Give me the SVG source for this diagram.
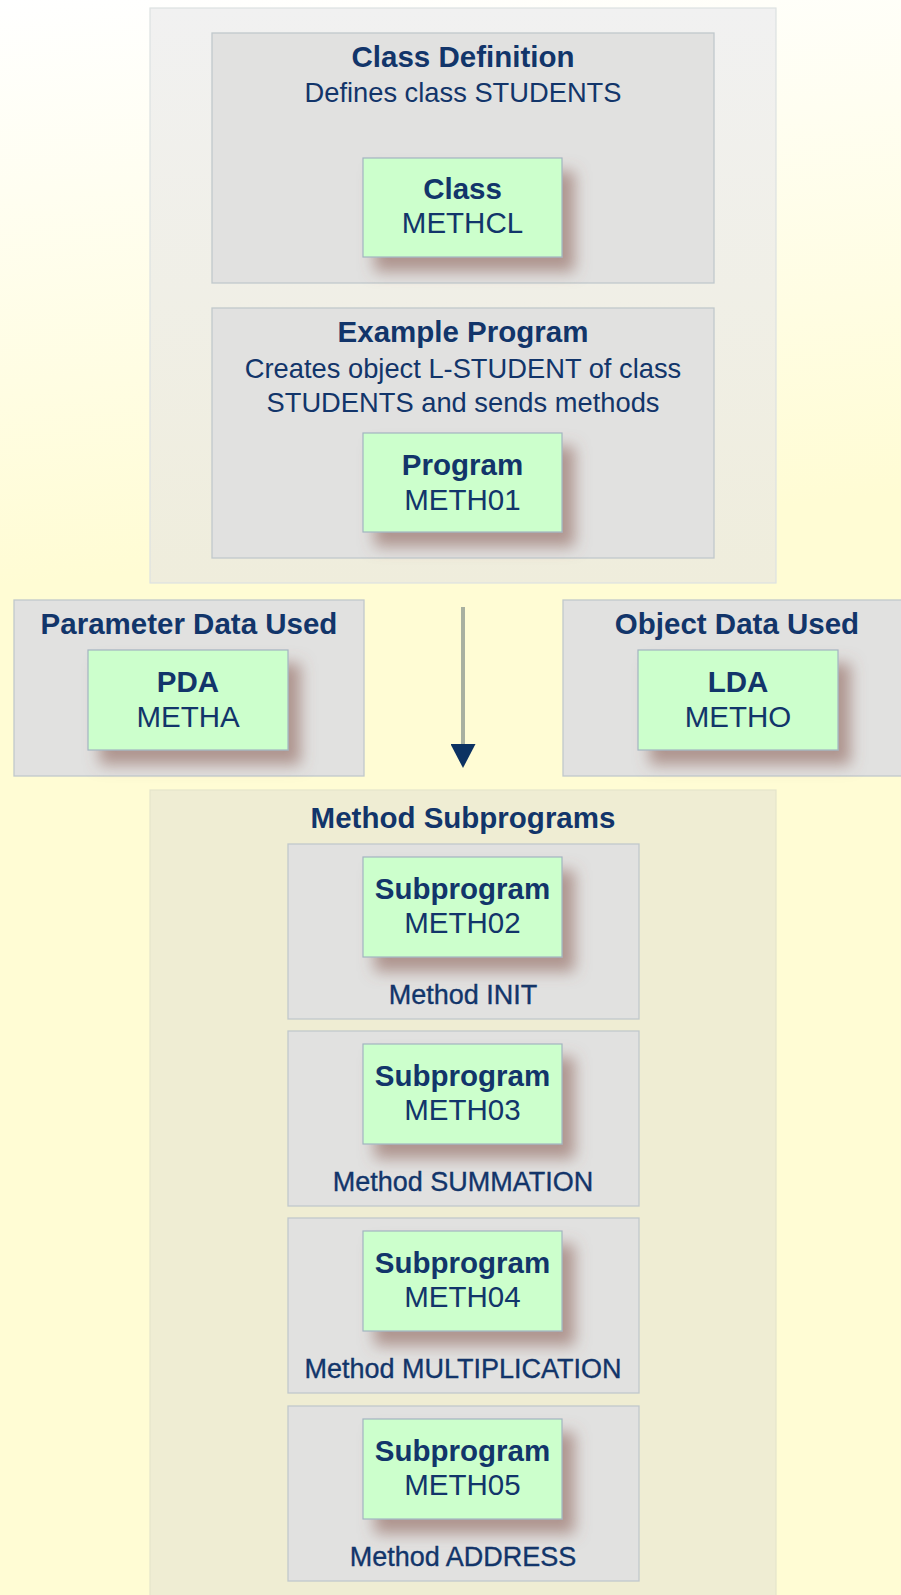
<svg xmlns="http://www.w3.org/2000/svg" width="901" height="1595" viewBox="0 0 901 1595">
<defs>
<linearGradient id="bg" gradientUnits="userSpaceOnUse" x1="0" y1="0" x2="60" y2="580">
<stop offset="0" stop-color="#ffffff"/>
<stop offset="1" stop-color="#fffcd4"/>
</linearGradient>
<linearGradient id="topbox" x1="0" y1="0" x2="0" y2="1">
<stop offset="0" stop-color="#f1f1f1"/>
<stop offset="1" stop-color="#efeddc"/>
</linearGradient>
<filter id="shadow" x="-20%" y="-20%" width="160%" height="170%">
<feDropShadow dx="12" dy="14" stdDeviation="7.5" flood-color="#85574d" flood-opacity="0.55"/>
</filter>
<marker id="arrow" viewBox="0 -12.5 24 25" refX="0" refY="0" markerWidth="24" markerHeight="25" markerUnits="userSpaceOnUse" orient="auto">
<path d="M0,-12.5 L24,0 L0,12.5 z" fill="#0c3262"/>
</marker>
</defs>
<style>
text { font-family: "Liberation Sans", Arial, Helvetica, sans-serif; fill: #12356a; text-anchor: middle; }
.title { font-weight: bold; font-size: 29.5px; }
.desc { font-size: 27.3px; }
.nb { font-weight: bold; font-size: 29.5px; }
.nr { font-size: 29.5px; }
.lbl { font-size: 27px; stroke: #12356a; stroke-width: 0.35px; }
.outer { fill: url(#topbox); stroke: #dde2e2; stroke-width: 1.2; }
.outer2 { fill: #efedd3; stroke: #e4e4cc; stroke-width: 1.2; }
.box { fill: #e1e1e0; stroke: #c0c8cc; stroke-width: 1.3; }
.node { fill: #ccffcc; stroke: #a2b4c0; stroke-width: 1.2; filter: url(#shadow); }
.conn { stroke: #a8b0a0; stroke-width: 4; fill: none; }
</style>
<rect x="0" y="0" width="901" height="1595" fill="url(#bg)"/>

<g id="class-container">
<rect class="outer" x="150" y="8" width="626" height="575"/>
</g>

<g id="class-definition">
<rect class="box" x="212" y="33" width="502" height="250"/>
<text class="title" x="463" y="67">Class Definition</text>
<text class="desc" x="463" y="102">Defines class STUDENTS</text>
</g>
<g id="node-class">
<rect class="node" x="363" y="158" width="199" height="99"/>
<text class="nb" x="462.5" y="199">Class</text>
<text class="nr" x="462.5" y="233">METHCL</text>
</g>

<g id="example-program">
<rect class="box" x="212" y="308" width="502" height="250"/>
<text class="title" x="463" y="342">Example Program</text>
<text class="desc" x="463" y="378">Creates object L-STUDENT of class</text>
<text class="desc" x="463" y="412">STUDENTS and sends methods</text>
</g>
<g id="node-program">
<rect class="node" x="363" y="433" width="199" height="99"/>
<text class="nb" x="462.5" y="475">Program</text>
<text class="nr" x="462.5" y="510">METH01</text>
</g>

<g id="parameter-data">
<rect class="box" x="14" y="600" width="350" height="176"/>
<text class="title" x="189" y="634">Parameter Data Used</text>
</g>
<g id="node-pda">
<rect class="node" x="88" y="650" width="200" height="100"/>
<text class="nb" x="188" y="692">PDA</text>
<text class="nr" x="188" y="727">METHA</text>
</g>

<g id="object-data">
<rect class="box" x="563" y="600" width="350" height="176"/>
<text class="title" x="737" y="634">Object Data Used</text>
</g>
<g id="node-lda">
<rect class="node" x="638" y="650" width="200" height="100"/>
<text class="nb" x="738" y="692">LDA</text>
<text class="nr" x="738" y="727">METHO</text>
</g>

<g id="method-subprograms">
<rect class="outer2" x="150" y="790" width="626" height="820"/>
<text class="title" x="463" y="828">Method Subprograms</text>
</g>

<g id="method-init">
<rect class="box" x="288" y="844" width="351" height="175"/>
<text class="lbl" x="463" y="1004">Method INIT</text>
</g>
<g id="node-meth02">
<rect class="node" x="363" y="857" width="199" height="100"/>
<text class="nb" x="462.5" y="899">Subprogram</text>
<text class="nr" x="462.5" y="933">METH02</text>
</g>

<g id="method-summation">
<rect class="box" x="288" y="1031" width="351" height="175"/>
<text class="lbl" x="463" y="1191">Method SUMMATION</text>
</g>
<g id="node-meth03">
<rect class="node" x="363" y="1044" width="199" height="100"/>
<text class="nb" x="462.5" y="1086">Subprogram</text>
<text class="nr" x="462.5" y="1120">METH03</text>
</g>

<g id="method-multiplication">
<rect class="box" x="288" y="1218" width="351" height="175"/>
<text class="lbl" x="463" y="1378">Method MULTIPLICATION</text>
</g>
<g id="node-meth04">
<rect class="node" x="363" y="1231" width="199" height="100"/>
<text class="nb" x="462.5" y="1273">Subprogram</text>
<text class="nr" x="462.5" y="1307">METH04</text>
</g>

<g id="method-address">
<rect class="box" x="288" y="1406" width="351" height="175"/>
<text class="lbl" x="463" y="1566">Method ADDRESS</text>
</g>
<g id="node-meth05">
<rect class="node" x="363" y="1419" width="199" height="100"/>
<text class="nb" x="462.5" y="1461">Subprogram</text>
<text class="nr" x="462.5" y="1495">METH05</text>
</g>

<g id="connectors">
<line class="conn" x1="463" y1="607" x2="463" y2="744" marker-end="url(#arrow)"/>
</g>
</svg>
